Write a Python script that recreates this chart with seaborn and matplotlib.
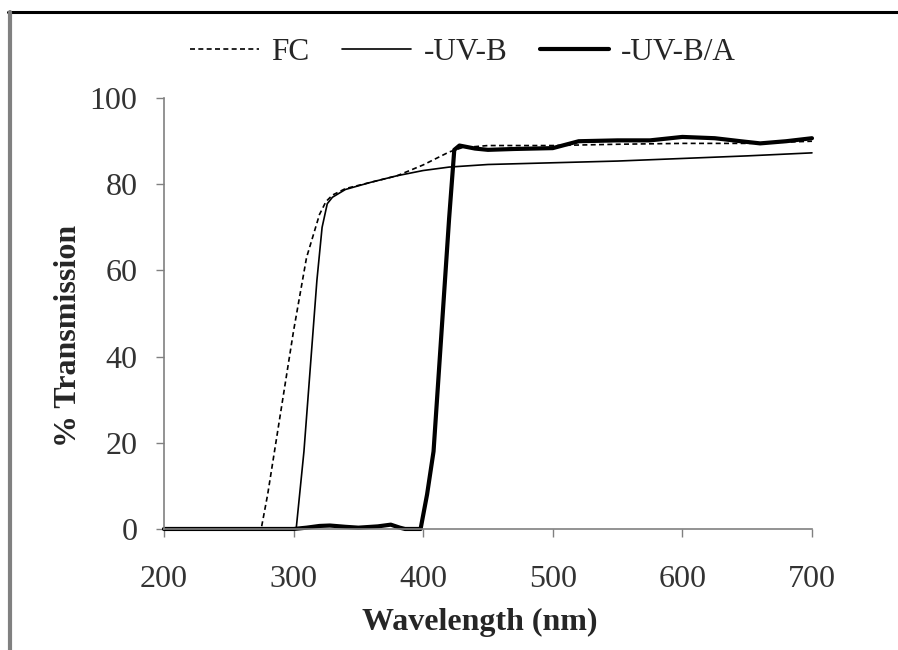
import matplotlib
matplotlib.use("Agg")
import matplotlib.pyplot as plt
from matplotlib.lines import Line2D
import seaborn as sns
import pandas as pd

# ---- data ----
fc_wl = [200, 250, 275, 280, 290, 300, 310, 320, 325, 330, 340, 360, 380, 400,
         420, 430, 450, 500, 550, 600, 650, 700]
fc_tr = [0, 0, 0, 8, 27, 46, 63, 73, 76, 77.5, 79, 80.5, 82, 84.5,
         87.5, 88.5, 89, 89, 89.3, 89.5, 89.5, 90]

uvb_wl = [200, 250, 300, 302, 308, 318, 322, 326, 330, 340, 360, 380, 400, 420,
          450, 500, 550, 600, 650, 700]
uvb_tr = [0, 0, 0, 0, 18, 57.7, 70, 75.5, 77, 78.8, 80.5, 82, 83.2, 84,
          84.6, 85, 85.4, 86, 86.6, 87.3]

uvba_wl = [200, 300, 310, 320, 328, 340, 350, 365, 375, 382, 386, 398, 403, 408,
           414, 420, 424, 428, 440, 450, 470, 500, 520, 550, 575, 600, 625, 645,
           660, 680, 700]
uvba_tr = [0, 0, 0.3, 0.7, 0.8, 0.5, 0.3, 0.6, 1.0, 0.3, 0, 0, 8, 18,
           45, 72, 88, 89, 88.3, 88, 88.2, 88.4, 90, 90.2, 90.2, 91, 90.7, 90,
           89.5, 90, 90.7]

series_names = ["FC", "-UV-B", "-UV-B/A"]
x_ticks = [200, 300, 400, 500, 600, 700]
y_ticks = [0, 20, 40, 60, 80, 100]

sns.set_style("white")
plt.rcParams["font.family"] = ["Liberation Serif", "DejaVu Serif"]

fig = plt.figure(figsize=(8.98, 6.5), dpi=100)
ax = fig.add_axes([0.1826, 0.1862, 0.9042 - 0.1826, 0.849 - 0.1862])

df_fc = pd.DataFrame({"wl": fc_wl, "tr": fc_tr})
df_b = pd.DataFrame({"wl": uvb_wl, "tr": uvb_tr})
df_ba = pd.DataFrame({"wl": uvba_wl, "tr": uvba_tr})

sns.lineplot(data=df_b, x="wl", y="tr", ax=ax, color="black", linewidth=1.2,
             clip_on=False)
sns.lineplot(data=df_fc, x="wl", y="tr", ax=ax, color="black", linewidth=1.2,
             linestyle=(0, (3, 2)), clip_on=False)
sns.lineplot(data=df_ba, x="wl", y="tr", ax=ax, color="black", linewidth=3.0,
             clip_on=False)

ax.set_xlim(200, 700)
ax.set_ylim(0, 100)
ax.set_xticks(x_ticks)
ax.set_yticks(y_ticks)
ax.set_xticklabels([str(v) for v in x_ticks])
ax.set_yticklabels([str(v) for v in y_ticks])
ax.tick_params(axis="both", direction="out", length=6, width=1, color="#808080",
               labelsize=23, labelcolor="#333333", left=True, bottom=True)
ax.tick_params(axis="x", pad=20)
ax.tick_params(axis="y", pad=13)

for s in ["top", "right"]:
    ax.spines[s].set_visible(False)
for s in ["left", "bottom"]:
    ax.spines[s].set_color("#808080")
    ax.spines[s].set_linewidth(1.2)

ax.set_xlabel("Wavelength (nm)", fontsize=23, fontweight="bold", labelpad=10)
ax.set_ylabel("% Transmission", fontsize=23, fontweight="bold", labelpad=5)
ax.xaxis.label.set_x(0.488)
ax.yaxis.label.set_y(0.448)

handles = [
    Line2D([], [], color="black", linewidth=1.2, linestyle=(0, (3, 2))),
    Line2D([], [], color="black", linewidth=1.2),
    Line2D([], [], color="black", linewidth=3.0),
]
fig.legend(handles, series_names, loc="center", bbox_to_anchor=(0.5156, 0.919),
           ncol=3, frameon=False, fontsize=22.5, handlelength=2.2,
           handletextpad=0.4, columnspacing=1.05)

# figure border as in the reference screenshot
fig.add_artist(Line2D([0.009, 1.0], [0.9815, 0.9815], color="black",
                      linewidth=2.2, transform=fig.transFigure))
fig.add_artist(Line2D([0.011, 0.011], [0.0, 0.9815], color="#808080",
                      linewidth=3.0, transform=fig.transFigure))

fig.savefig("out.png", dpi=100)
